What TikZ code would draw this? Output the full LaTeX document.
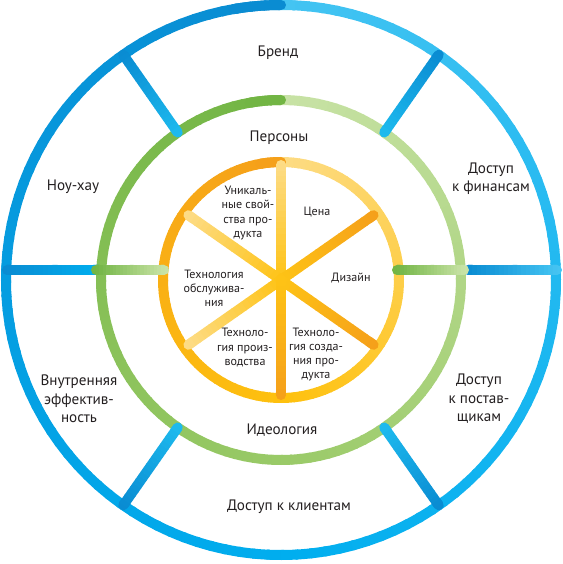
\documentclass[tikz,border=0pt]{standalone}
\usepackage{fontspec}
\setmainfont{PT Sans}
\usepackage{tikz}
\usetikzlibrary{calc}
\definecolor{cText}{HTML}{231F20}
\definecolor{cBlueDk}{HTML}{0A8CD2}
\definecolor{cBlue}{HTML}{00AEEF}
\definecolor{cBlueLt}{HTML}{45C4F2}
\definecolor{cCyan}{HTML}{1DBAEE}
\definecolor{cGreenDk}{HTML}{72B544}
\definecolor{cGreen}{HTML}{9ACA68}
\definecolor{cGreenLt}{HTML}{C9E3A7}
\definecolor{cOrangeDk}{HTML}{F5A01A}
\definecolor{cYellow}{HTML}{FEC10E}
\definecolor{cYellowLt}{HTML}{FDDC86}
\definecolor{cHub}{HTML}{FEC316}
\tikzset{
  ringseg/.style={line width=10bp,line cap=butt},
  spoke/.style={line width=10bp,line cap=round},
  biglbl/.style={font=\fontsize{15.2}{18.5}\selectfont,text=cText,align=center},
  smalllbl/.style={font=\fontsize{12.1}{14.3}\selectfont,text=cText,align=center},
}
% ring whose colour runs dark -> mid -> light, counter-clockwise from the top
\newcommand{\sweepring}[4]{%
  \foreach \t in {0,3,...,177}{
    \pgfmathtruncatemacro{\pc}{\t/1.8}
    \draw[ringseg,#3!\pc!#2] (90+\t:#1) arc[start angle=90+\t,end angle=93.6+\t,radius=#1];
  }
  \foreach \t in {180,183,...,357}{
    \pgfmathtruncatemacro{\pc}{(\t-180)/1.8}
    \draw[ringseg,#4!\pc!#3] (90+\t:#1) arc[start angle=90+\t,end angle=93.6+\t,radius=#1];
  }
  \draw[spoke,#2] (90:#1) arc[start angle=90,end angle=100,radius=#1];
}
% straight spoke fading from one colour to another
\newcommand{\sweepspoke}[4]{%
  \draw[spoke,#3] #1 -- ($#1!0.05!#2$);
  \draw[spoke,#4] ($#1!0.95!#2$) -- #2;
  \foreach \i in {0,...,19}{
    \pgfmathtruncatemacro{\pc}{(\i+0.5)*5}
    \draw[line width=10bp,#4!\pc!#3] ($#1!\i/20!#2$) -- ($#1!{(\i+1.1)/20}!#2$);
  }
}

\begin{document}
\begin{tikzpicture}[x=1bp,y=1bp]
  \useasboundingbox (-281,-284) rectangle (282,280);
  \coordinate (hub) at (0,0);

  % rings
  \sweepring{275}{cBlueDk}{cBlue}{cBlueLt}
  \sweepring{180}{cGreenDk}{cGreen}{cGreenLt}
  \sweepring{118}{cOrangeDk}{cYellow}{cYellowLt}

  % blue spokes
  \sweepspoke{(55:275)}{(55:180)}{cBlueDk}{cCyan}
  \sweepspoke{(125:275)}{(125:180)}{cBlueDk}{cCyan}
  \sweepspoke{(235:275)}{(235:180)}{cBlueDk}{cCyan}
  \sweepspoke{(305:275)}{(305:180)}{cBlueDk}{cCyan}
  \sweepspoke{(-274,10)}{(-183,10)}{cBlueDk}{cBlue}
  \sweepspoke{(187,10)}{(276,10)}{cBlueDk}{cBlueLt}

  % green spokes
  \sweepspoke{(-185,10)}{(-117,10)}{cGreenDk}{cGreenLt}
  \sweepspoke{(116,10)}{(183,10)}{cGreenDk}{cGreenLt}

  % orange spokes
  \sweepspoke{(hub)}{(90:115)}{cHub}{cYellowLt}
  \sweepspoke{(hub)}{(145:113)}{cHub}{cYellowLt}
  \sweepspoke{(hub)}{(215:113)}{cHub}{cYellowLt}
  \sweepspoke{(hub)}{(35:113)}{cHub}{cOrangeDk}
  \sweepspoke{(hub)}{(-35:113)}{cHub}{cOrangeDk}
  \sweepspoke{(hub)}{(-90:115)}{cHub}{cOrangeDk}

  % outer labels
  \node[biglbl] (brand) at (-3,227) {Бренд};
  \node[biglbl] (finance) at (210,101) {Доступ\\к финансам};
  \node[biglbl] (suppliers) at (198,-119) {Доступ\\к постав-\\щикам};
  \node[biglbl] (clients) at (8,-227) {Доступ к клиентам};
  \node[biglbl] (efficiency) at (-202,-119) {Внутренняя\\эффектив-\\ность};
  \node[biglbl] (knowhow) at (-208,93) {Ноу-хау};
  \node[biglbl] (persons) at (-2,142.5) {Персоны};
  \node[biglbl] (ideology) at (1,-150) {Идеология};

  % inner labels
  \node[smalllbl] (unique) at (-33,67) {Уникаль-\\ные свой-\\ства про-\\дукта};
  \node[smalllbl] (price) at (36,68) {Цена};
  \node[smalllbl] (design) at (70,2) {Дизайн};
  \node[smalllbl] (service) at (-67,-8.4) {Технология\\обслужива-\\ния};
  \node[smalllbl] (production) at (-36,-67.6) {Техноло-\\гия произ-\\водства};
  \node[smalllbl] (creation) at (35,-74.5) {Техноло-\\гия созда-\\ния про-\\дукта};
\end{tikzpicture}
\end{document}
